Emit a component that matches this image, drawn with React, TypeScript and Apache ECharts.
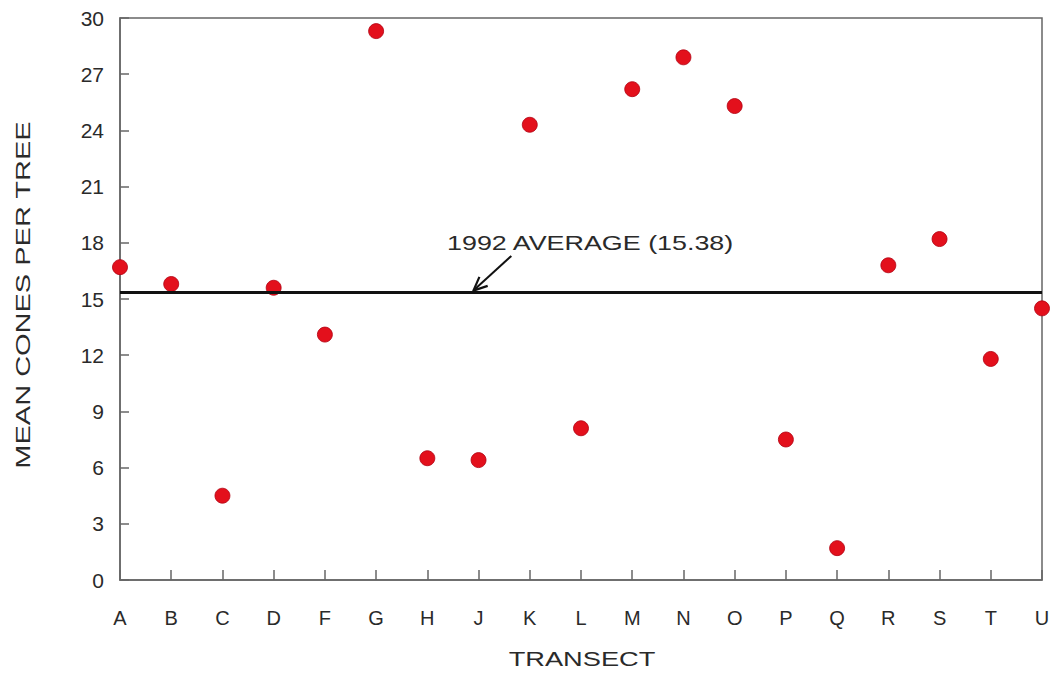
import React, { useEffect, useRef } from "react";
import * as echarts from "echarts";

const transects = ["A", "B", "C", "D", "F", "G", "H", "J", "K", "L", "M", "N", "O", "P", "Q", "R", "S", "T", "U"];
const meanCones = [16.7, 15.8, 4.5, 15.6, 13.1, 29.3, 6.5, 6.4, 24.3, 8.1, 26.2, 27.9, 25.3, 7.5, 1.7, 16.8, 18.2, 11.8, 14.5];
const yTicks = [0, 30, 3];
const average = 15.38;
const averageLabel = "1992 AVERAGE (15.38)";
const xTitle = "TRANSECT";
const yTitle = "MEAN CONES PER TREE";
// arrow annotation: tail and head in data space (fractional category index, value)
const arrowTail = [7.64, 17.3];
const arrowHead = [6.9, 15.45];

export default function App() {
  const ref = useRef<HTMLDivElement>(null);
  useEffect(() => {
    if (!ref.current) return;
    const chart = echarts.init(ref.current, null, { renderer: "svg" });
    const font = "'Liberation Sans', Arial, Helvetica, sans-serif";
    const textColor = "#2a2a2a";
    const axisColor = "#666";
    chart.setOption({
      animation: false,
      backgroundColor: "#ffffff",
      grid: { left: 120, right: 13, top: 18, bottom: 93, show: true, borderColor: axisColor, borderWidth: 1.5, containLabel: false },
      xAxis: {
        type: "category",
        data: transects,
        boundaryGap: false,
        axisLine: { lineStyle: { color: axisColor, width: 1.5 } },
        axisTick: { inside: true, length: 10, alignWithLabel: true, lineStyle: { color: axisColor, width: 1.5 } },
        axisLabel: { margin: 28, fontFamily: font, fontSize: 20, color: textColor, interval: 0 },
        splitLine: { show: false },
      },
      yAxis: {
        type: "value",
        min: yTicks[0],
        max: yTicks[1],
        interval: yTicks[2],
        axisLine: { show: true, lineStyle: { color: axisColor, width: 1.5 } },
        axisTick: { show: true, inside: true, length: 9, lineStyle: { color: axisColor, width: 1.5 } },
        axisLabel: { margin: 16, fontFamily: font, fontSize: 21, color: textColor },
        splitLine: { show: false },
      },
      series: [
        {
          type: "scatter",
          data: meanCones,
          symbol: "circle",
          symbolSize: 15,
          itemStyle: { color: "#e3101c", borderColor: "#b00010", borderWidth: 0.8, opacity: 1 },
          markLine: {
            silent: true,
            symbol: "none",
            label: { show: false },
            lineStyle: { color: "#111", width: 3, type: "solid" },
            data: [{ yAxis: average }],
          },
          z: 3,
        },
      ],
    });

    const toPx = (pt: number[]) => {
      const i0 = Math.floor(pt[0]);
      const f = pt[0] - i0;
      const a = chart.convertToPixel({ gridIndex: 0 }, [i0, pt[1]]) as number[];
      const b = chart.convertToPixel({ gridIndex: 0 }, [i0 + 1, pt[1]]) as number[];
      return [a[0] + f * (b[0] - a[0]), a[1]];
    };
    const tail = toPx(arrowTail);
    const head = toPx(arrowHead);
    const ang = Math.atan2(tail[1] - head[1], tail[0] - head[0]);
    const hl = 15;
    const spread = 0.42;
    const p1 = [head[0] + hl * Math.cos(ang - spread), head[1] + hl * Math.sin(ang - spread)];
    const p2 = [head[0] + hl * Math.cos(ang + spread), head[1] + hl * Math.sin(ang + spread)];

    chart.setOption({
      graphic: [
        {
          type: "text",
          x: 447,
          y: 243,
          scaleX: 1.28,
          style: { text: averageLabel, fontFamily: font, fontSize: 21, fill: textColor, verticalAlign: "middle", align: "left" },
        },
        {
          type: "line",
          shape: { x1: tail[0], y1: tail[1], x2: head[0], y2: head[1] },
          style: { stroke: "#111", lineWidth: 2 },
        },
        {
          type: "polyline",
          shape: { points: [p1, head, p2] },
          style: { stroke: "#111", lineWidth: 2.2, fill: null },
        },
        {
          type: "text",
          x: 582,
          y: 659,
          scaleX: 1.36,
          style: { text: xTitle, fontFamily: font, fontSize: 20, fill: textColor, align: "center", verticalAlign: "middle" },
        },
        {
          type: "text",
          x: 23,
          y: 295,
          rotation: Math.PI / 2,
          scaleX: 1.45,
          style: { text: yTitle, fontFamily: font, fontSize: 20, fill: textColor, align: "center", verticalAlign: "middle" },
        },
      ],
    });
    return () => chart.dispose();
  }, []);
  return <div ref={ref} style={{ position: "fixed", left: 0, top: 0, width: 1055, height: 673 }} />;
}
